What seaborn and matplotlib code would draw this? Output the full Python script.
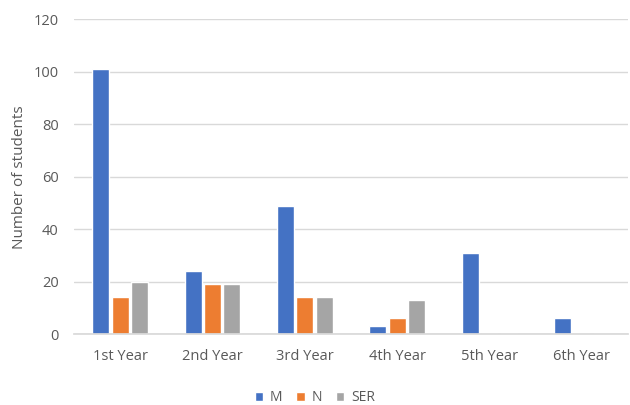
import matplotlib
matplotlib.use("Agg")
import matplotlib.pyplot as plt
import seaborn as sns
import pandas as pd

# ===================== 数据 =====================
years = ["1st Year", "2nd Year", "3rd Year", "4th Year", "5th Year", "6th Year"]
groups = ["M", "N", "SER"]
m_vals = [101, 24, 49, 3, 31, 6]
n_vals = [14, 19, 14, 6, 0, 0]
ser_vals = [20, 19, 14, 13, 0, 0]
colors = ["#4472C4", "#ED7D31", "#A5A5A5"]

df = pd.DataFrame({
    "year": years * 3,
    "group": ["M"] * 6 + ["N"] * 6 + ["SER"] * 6,
    "count": m_vals + n_vals + ser_vals,
})

sns.set_theme(style="white")
plt.rcParams['font.family'] = ['Open Sans', 'DejaVu Sans']
txt = "#595959"

fig, ax = plt.subplots(figsize=(6.3, 4.05), dpi=100)
fig.subplots_adjust(left=0.1175, right=0.997, top=0.952, bottom=0.175)

sns.barplot(data=df, x="year", y="count", hue="group", hue_order=groups,
            palette=colors, width=0.63, gap=0.12, ax=ax, saturation=1)

ax.set_ylim(0, 120)
ax.set_yticks(range(0, 121, 20))
ax.yaxis.grid(True, color="#D9D9D9", linewidth=1)
ax.set_axisbelow(True)
for s in ["top", "right", "left"]:
    ax.spines[s].set_visible(False)
ax.spines["bottom"].set_color("#D9D9D9")
ax.tick_params(axis="y", length=0, labelsize=10.5, colors=txt, pad=11)
ax.tick_params(axis="x", length=0, labelsize=10.5, colors=txt, pad=11)
ax.set_xlabel("")
ax.set_ylabel("Number of students", fontsize=11, color=txt, labelpad=5)

# 图例放在整张图底部居中
ax.get_legend().remove()
handles, labels = ax.get_legend_handles_labels()
leg = fig.legend(handles, labels, loc="center", bbox_to_anchor=(0.5, 0.018), ncol=3,
                 frameon=False, fontsize=10, handlelength=0.6, handleheight=0.6,
                 columnspacing=1.0, handletextpad=0.5)
for t in leg.get_texts():
    t.set_color(txt)

plt.savefig("out.png", dpi=100)
